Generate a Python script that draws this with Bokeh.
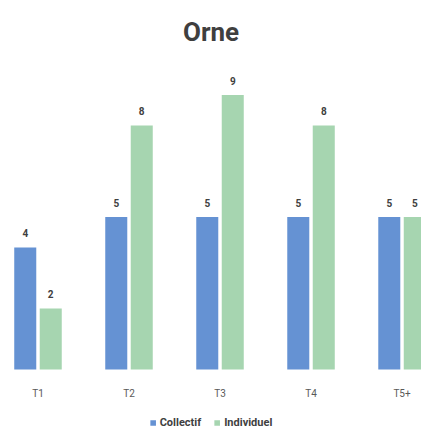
from bokeh.plotting import figure
from bokeh.models import ColumnDataSource, LabelSet, Legend, LegendItem, Range1d
from bokeh.core.properties import value
from bokeh.transform import dodge
from bokeh.embed import file_html
from bokeh.resources import INLINE

categories = ["T1", "T2", "T3", "T4", "T5+"]
collectif = [4, 5, 5, 5, 5]
individuel = [2, 8, 9, 8, 5]
title_text = "Orne"
series_names = ["Collectif", "Individuel"]

BLUE = "#6592d3"
GREEN = "#a6d5b0"

xs = list(range(len(categories)))
src = ColumnDataSource(dict(x=xs, zero=[0] * len(xs), cat=categories, col=collectif, ind=individuel,
                            col_s=[str(v) for v in collectif],
                            ind_s=[str(v) for v in individuel]))

p = figure(frame_width=421, frame_height=377, output_backend="svg", toolbar_location=None,
           x_range=Range1d(-0.412, 4.214), y_range=Range1d(-2.23, 10.13),
           min_border_left=0, min_border_right=0, min_border_top=60, min_border_bottom=0)
p.outline_line_color = None
p.grid.visible = False
p.xaxis.visible = False
p.yaxis.visible = False

p.title.text = title_text
p.title.align = "center"
p.title.text_font = "Roboto"
p.title.text_font_style = "bold"
p.title.text_font_size = "26px"
p.title.text_color = "#3f3f3f"
p.title.standoff = 27

off = 0.14
w = 0.242
r1 = p.vbar(x=dodge("x", -off), top="col", width=w, source=src, fill_color=BLUE, line_color=None)
r2 = p.vbar(x=dodge("x", off), top="ind", width=w, source=src, fill_color=GREEN, line_color=None)

for field, txt, o in [("col", "col_s", -off), ("ind", "ind_s", off)]:
    lbl = LabelSet(x=dodge("x", o), y=field, text=txt, source=src, y_offset=10,
                   text_align="center", text_font_size="10px", text_font_style="bold",
                   text_color="#404040", text_font=value("Roboto"))
    p.add_layout(lbl)

cat_lbl = LabelSet(x="x", y="zero", text="cat", source=src, y_offset=-24,
                   text_align="center", text_baseline="middle", text_font_size="10px",
                   text_color="#595959", text_font=value("Roboto"))
p.add_layout(cat_lbl)

legend = Legend(items=[LegendItem(label=series_names[0], renderers=[r1]),
                       LegendItem(label=series_names[1], renderers=[r2])],
                orientation="horizontal", location="bottom_center",
                glyph_width=7, glyph_height=7, label_text_font_size="11px",
                label_text_font_style="bold", label_text_color="#404040",
                label_text_font="Roboto", border_line_color=None, background_fill_alpha=0,
                spacing=12, label_standoff=4, padding=0, margin=8)
p.add_layout(legend)

open("out.html", "w").write(file_html(p, INLINE))
